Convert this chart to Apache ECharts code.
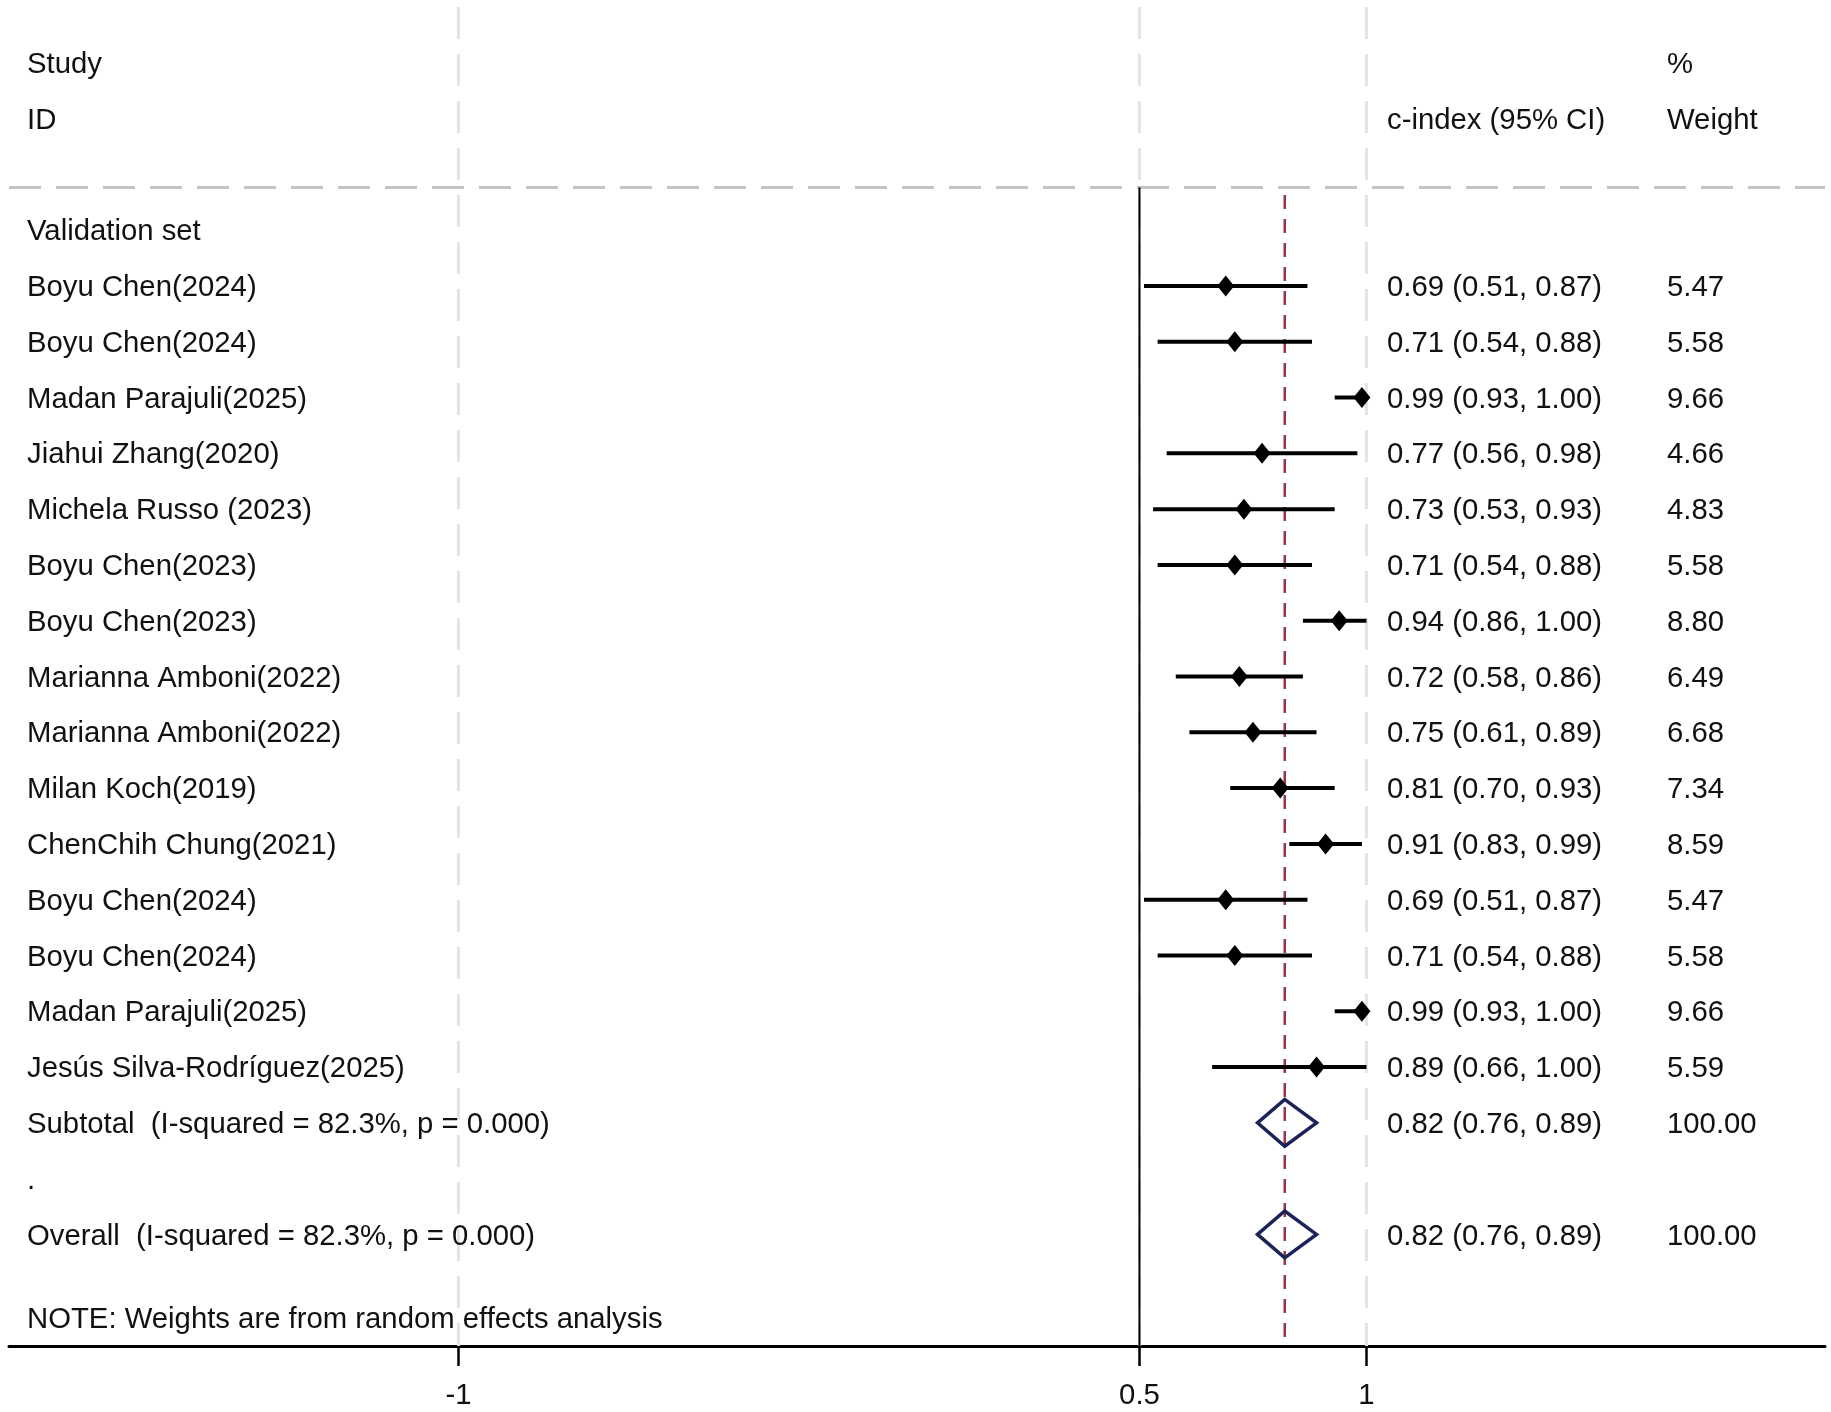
<!DOCTYPE html>
<html>
<head>
<meta charset="utf-8">
<script src="https://cdn.jsdelivr.net/npm/echarts@6/dist/echarts.min.js"></script>
<style>
html,body{margin:0;padding:0;background:#ffffff;}
#chart{width:1831px;height:1412px;}
</style>
</head>
<body>
<div id="chart"></div>
<script>
// ---------------- data ----------------
const studyNames = [
  "Boyu Chen(2024)", "Boyu Chen(2024)", "Madan Parajuli(2025)", "Jiahui Zhang(2020)",
  "Michela Russo (2023)", "Boyu Chen(2023)", "Boyu Chen(2023)", "Marianna Amboni(2022)",
  "Marianna Amboni(2022)", "Milan Koch(2019)", "ChenChih Chung(2021)", "Boyu Chen(2024)",
  "Boyu Chen(2024)", "Madan Parajuli(2025)", "Jesús Silva-Rodríguez(2025)"
];
const estimates = [0.69, 0.71, 0.99, 0.77, 0.73, 0.71, 0.94, 0.72, 0.75, 0.81, 0.91, 0.69, 0.71, 0.99, 0.89];
const lowerCI   = [0.51, 0.54, 0.93, 0.56, 0.53, 0.54, 0.86, 0.58, 0.61, 0.70, 0.83, 0.51, 0.54, 0.93, 0.66];
const upperCI   = [0.87, 0.88, 1.00, 0.98, 0.93, 0.88, 1.00, 0.86, 0.89, 0.93, 0.99, 0.87, 0.88, 1.00, 1.00];
const weights   = ["5.47", "5.58", "9.66", "4.66", "4.83", "5.58", "8.80", "6.49", "6.68", "7.34", "8.59", "5.47", "5.58", "9.66", "5.59"];

const pooledLabels   = ["Subtotal  (I-squared = 82.3%, p = 0.000)", "Overall  (I-squared = 82.3%, p = 0.000)"];
const pooledEstimate = [0.82, 0.82];
const pooledLower    = [0.76, 0.76];
const pooledUpper    = [0.89, 0.89];
const pooledWeight   = ["100.00", "100.00"];

const xTickValues = [-1, 0.5, 1];
const nullValue = 0.5;
const headerLabels = { study: "Study", id: "ID", estimate: "c-index (95% CI)", pct: "%", weight: "Weight" };
const groupLabel = "Validation set";
const spacerLabel = ".";
const noteLabel = "NOTE: Weights are from random effects analysis";

// ---------------- layout (not data) ----------------
const FONT_FAMILY = '"Liberation Sans", Arial, sans-serif';
const FONT = '29.3px ' + FONT_FAMILY;
const TEXT_COLOR = '#111111';
const TEXT_DY = 2;
const COL_STUDY = 27, COL_CI = 1387, COL_WEIGHT = 1667;
const ROW_HEADER1 = -3, ROW_HEADER2 = -2, ROW_GROUP = 0;
const studyRows = studyNames.map((_, i) => i + 1);
const pooledRows = [studyNames.length + 1, studyNames.length + 3];
const ROW_SPACER = studyNames.length + 2;
const ROW_NOTE = studyNames.length + 4.5;
const ROW_SEP = -0.765;     // header separator
const ROW_RED_TOP = -0.63;
const Y_MIN = -4, Y_MAX = 20;
const X_MIN = -1.99, X_MAX = 2.01;

const fmt = v => v.toFixed(2);

// text items
const textItems = [];
textItems.push({ row: ROW_HEADER1, px: COL_STUDY, text: headerLabels.study });
textItems.push({ row: ROW_HEADER2, px: COL_STUDY, text: headerLabels.id });
textItems.push({ row: ROW_HEADER2, px: COL_CI, text: headerLabels.estimate });
textItems.push({ row: ROW_HEADER1, px: COL_WEIGHT, text: headerLabels.pct });
textItems.push({ row: ROW_HEADER2, px: COL_WEIGHT, text: headerLabels.weight });
textItems.push({ row: ROW_GROUP, px: COL_STUDY, text: groupLabel });
studyNames.forEach((n, i) => {
  textItems.push({ row: studyRows[i], px: COL_STUDY, text: n });
  textItems.push({ row: studyRows[i], px: COL_CI, text: fmt(estimates[i]) + " (" + fmt(lowerCI[i]) + ", " + fmt(upperCI[i]) + ")" });
  textItems.push({ row: studyRows[i], px: COL_WEIGHT, text: weights[i] });
});
pooledLabels.forEach((n, i) => {
  textItems.push({ row: pooledRows[i], px: COL_STUDY, text: n });
  textItems.push({ row: pooledRows[i], px: COL_CI, text: fmt(pooledEstimate[i]) + " (" + fmt(pooledLower[i]) + ", " + fmt(pooledUpper[i]) + ")" });
  textItems.push({ row: pooledRows[i], px: COL_WEIGHT, text: pooledWeight[i] });
});
textItems.push({ row: ROW_SPACER, px: COL_STUDY, text: spacerLabel });
textItems.push({ row: ROW_NOTE, px: COL_STUDY, text: noteLabel });

const chart = echarts.init(document.getElementById('chart'), null, { renderer: 'canvas' });

const option = {
  backgroundColor: '#ffffff',
  animation: false,
  grid: { left: 9, right: 6, top: 7, bottom: 66, containLabel: false },
  xAxis: {
    type: 'value', min: X_MIN, max: X_MAX,
    axisLine: { show: true, onZero: false, lineStyle: { color: '#000', width: 3 } },
    axisTick: { show: true, customValues: xTickValues, length: 20, lineStyle: { color: '#000', width: 2.5 } },
    axisLabel: { show: true, customValues: xTickValues, margin: 35, color: TEXT_COLOR, fontSize: 29.3,
      fontFamily: FONT_FAMILY, formatter: v => String(v) },
    splitLine: { show: false }
  },
  yAxis: { type: 'value', min: Y_MIN, max: Y_MAX, inverse: true, show: false },
  series: [
    { // grid lines, null line, overall line
      type: 'custom', z: 1, silent: true,
      data: [[0, 0]],
      renderItem: (params, api) => {
        const children = [];
        xTickValues.forEach(v => {
          const p1 = api.coord([v, Y_MIN]), p2 = api.coord([v, Y_MAX]);
          children.push({ type: 'line', shape: { x1: p1[0], y1: p1[1], x2: p2[0], y2: p2[1] },
            style: { stroke: '#e4e4e4', lineWidth: 3, lineDash: [32, 15] } });
        });
        const h1 = api.coord([X_MIN, ROW_SEP]), h2 = api.coord([X_MAX, ROW_SEP]);
        children.push({ type: 'line', shape: { x1: h1[0], y1: h1[1], x2: h2[0], y2: h2[1] },
          style: { stroke: '#c4c4c4', lineWidth: 3, lineDash: [32, 15] } });
        const n1 = api.coord([nullValue, ROW_SEP]), n2 = api.coord([nullValue, Y_MAX]);
        children.push({ type: 'line', shape: { x1: n1[0], y1: n1[1], x2: n2[0], y2: n2[1] },
          style: { stroke: '#000', lineWidth: 2 } });
        const r1 = api.coord([pooledEstimate[1], ROW_RED_TOP]), r2 = api.coord([pooledEstimate[1], Y_MAX]);
        children.push({ type: 'line', shape: { x1: r1[0], y1: r1[1], x2: r2[0], y2: r2[1] },
          style: { stroke: '#9a3446', lineWidth: 2.5, lineDash: [14, 10] } });
        return { type: 'group', children };
      }
    },
    { // study CIs and markers
      type: 'custom', z: 3, silent: true,
      data: estimates.map((e, i) => [e, studyRows[i], lowerCI[i], upperCI[i]]),
      renderItem: (params, api) => {
        const row = api.value(1);
        const pl = api.coord([api.value(2), row]);
        const ph = api.coord([api.value(3), row]);
        const pe = api.coord([api.value(0), row]);
        return { type: 'group', children: [
          { type: 'line', shape: { x1: pl[0], y1: pl[1], x2: ph[0], y2: ph[1] }, style: { stroke: '#000', lineWidth: 4 } },
          { type: 'polygon', shape: { points: [[pe[0] - 8.5, pe[1]], [pe[0], pe[1] - 10.5], [pe[0] + 8.5, pe[1]], [pe[0], pe[1] + 10.5]] },
            style: { fill: '#000' } }
        ] };
      }
    },
    { // pooled diamonds
      type: 'custom', z: 3, silent: true,
      data: pooledEstimate.map((e, i) => [e, pooledRows[i], pooledLower[i], pooledUpper[i]]),
      renderItem: (params, api) => {
        const row = api.value(1), e = api.value(0);
        const pts = [api.coord([api.value(2), row]), api.coord([e, row - 0.42]),
                     api.coord([api.value(3), row]), api.coord([e, row + 0.42])];
        return { type: 'polygon', shape: { points: pts },
          style: { fill: 'rgba(0,0,0,0)', stroke: '#1b2358', lineWidth: 3.5 } };
      }
    },
    { // text
      type: 'custom', z: 4, silent: true,
      data: textItems.map(t => [0, t.row]),
      renderItem: (params, api) => {
        const t = textItems[params.dataIndex];
        const y = api.coord([0, t.row])[1] + TEXT_DY;
        return { type: 'text', style: { text: t.text, x: t.px, y: y, font: FONT, fill: TEXT_COLOR,
          align: 'left', verticalAlign: 'middle' } };
      }
    }
  ]
};
chart.setOption(option);
</script>
</body>
</html>
